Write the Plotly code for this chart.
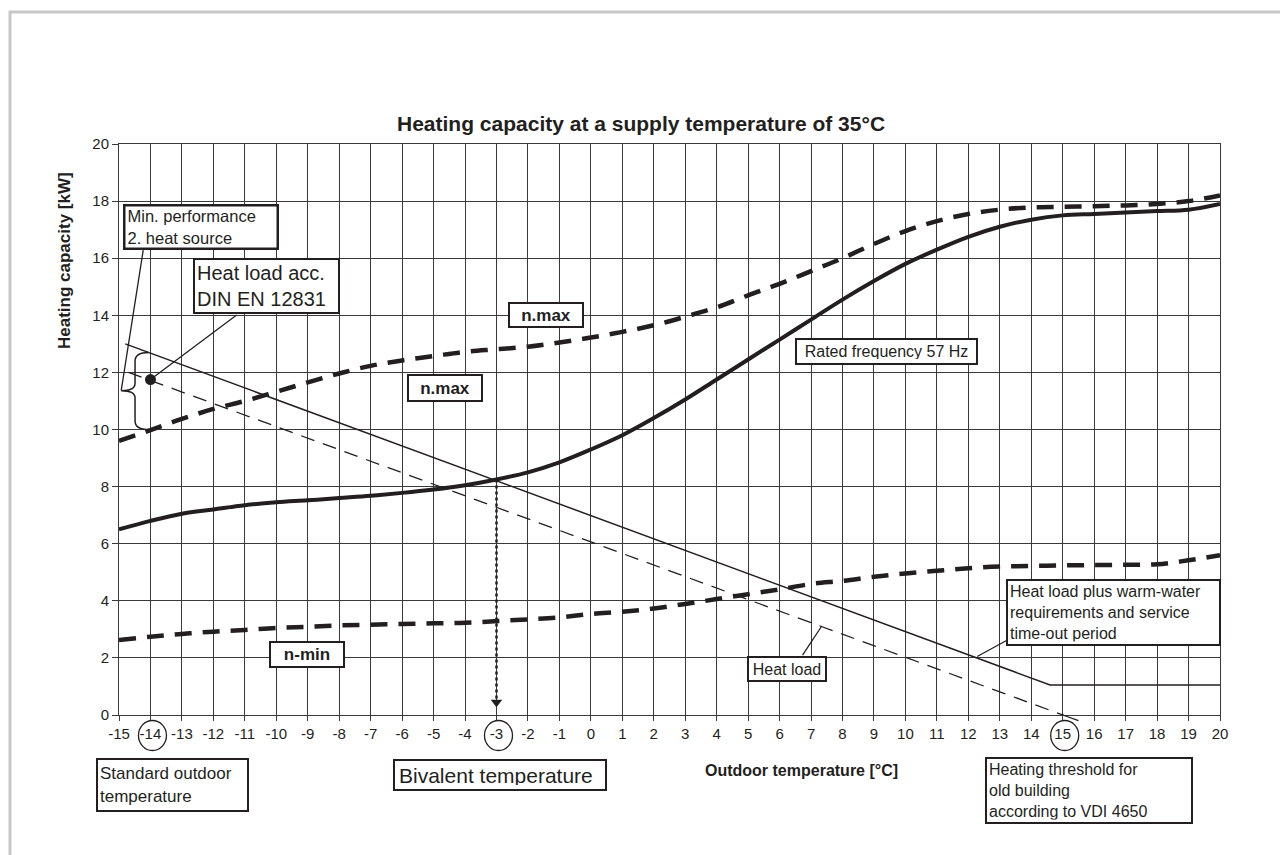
import plotly.graph_objects as go

# outdoor temperature grid (degC) and the read-off capacity curves (kW)
temps = list(range(-15, 21))
rated_57hz = [6.5, 6.8, 7.05, 7.2, 7.35, 7.45, 7.52, 7.6, 7.68, 7.78, 7.9, 8.05,
              8.25, 8.5, 8.85, 9.3, 9.8, 10.4, 11.05, 11.75, 12.45, 13.15, 13.85, 14.55,
              15.2, 15.8, 16.3, 16.75, 17.1, 17.35, 17.5, 17.55, 17.6, 17.65, 17.7, 17.9]
n_max = [9.6, 9.98, 10.37, 10.72, 11.0, 11.32, 11.65, 11.96, 12.23, 12.42, 12.57, 12.72,
         12.81, 12.9, 13.05, 13.22, 13.42, 13.65, 13.95, 14.28, 14.7, 15.1, 15.55, 16.0,
         16.5, 16.95, 17.3, 17.55, 17.7, 17.78, 17.8, 17.82, 17.85, 17.9, 18.0, 18.2]
n_min = [2.63, 2.74, 2.84, 2.92, 2.98, 3.05, 3.09, 3.14, 3.16, 3.19, 3.21, 3.23,
         3.29, 3.35, 3.42, 3.54, 3.62, 3.73, 3.89, 4.06, 4.23, 4.4, 4.59, 4.7,
         4.84, 4.96, 5.05, 5.14, 5.2, 5.22, 5.24, 5.25, 5.26, 5.28, 5.42, 5.6]

heat_load_x = [-14.7, 15.5]
heat_load_y = [12.0, -0.2]
heat_load_plus_x = [-14.8, 14.6, 20]
heat_load_plus_y = [13.0, 1.05, 1.05]

standard_temp = -14
standard_load = 11.75
bivalent_temp = -3
bivalent_capacity = 8.25
threshold_temp = 15

x_ticks = list(range(-15, 21))
x_tick_labels = [str(t) for t in x_ticks]
y_ticks = list(range(0, 21, 2))
circled_ticks = [standard_temp, bivalent_temp, threshold_temp]

INK = "#231f20"
GRID = "#3a3a3a"
FONT = "Liberation Sans, Arial, sans-serif"

# the page body has an 8px margin, so the figure is made 8px smaller
BODY = 8
W, H = 1288 - BODY, 855 - BODY
PLOT_L, PLOT_T, PLOT_R, PLOT_B = 119, 144, 1220, 715   # page pixels
PW = PLOT_R - PLOT_L
PH = PLOT_B - PLOT_T
ML, MT = PLOT_L - BODY, PLOT_T - BODY
MR, MB = W - ML - PW, H - MT - PH
X0, X1, Y0, Y1 = -15, 20, 0, 20


def xpap(px):
    return (px - PLOT_L) / PW


def ypap(py):
    return (PLOT_B - py) / PH


def xdat(v):
    return (v - X0) / (X1 - X0)


def ydat(v):
    return (v - Y0) / (Y1 - Y0)


fig = go.Figure()

fig.add_trace(go.Scatter(x=temps, y=n_max, mode="lines",
                         line=dict(color=INK, width=4.5, dash="17px,11px", shape="spline")))
fig.add_trace(go.Scatter(x=temps, y=n_min, mode="lines",
                         line=dict(color=INK, width=4.5, dash="17px,11px", shape="spline")))
fig.add_trace(go.Scatter(x=temps, y=rated_57hz, mode="lines",
                         line=dict(color=INK, width=4, shape="spline")))
fig.add_trace(go.Scatter(x=heat_load_plus_x, y=heat_load_plus_y, mode="lines",
                         line=dict(color=INK, width=1.5)))
fig.add_trace(go.Scatter(x=heat_load_x, y=heat_load_y, mode="lines",
                         line=dict(color=INK, width=1.3, dash="14px,9px")))

# bivalent point drop line with arrow head
fig.add_trace(go.Scatter(x=[bivalent_temp, bivalent_temp], y=[bivalent_capacity, 0.45],
                         mode="lines", line=dict(color=INK, width=2.5, dash="dot")))
fig.add_trace(go.Scatter(x=[bivalent_temp], y=[0.45], mode="markers",
                         marker=dict(symbol="triangle-down", size=10, color=INK), cliponaxis=False))
fig.add_trace(go.Scatter(x=[standard_temp], y=[standard_load], mode="markers",
                         marker=dict(symbol="circle", size=11, color=INK)))

shapes = []

# short tail of the heat-load line running past the x axis
shapes.append(dict(type="line", xref="paper", yref="paper",
                   x0=xdat(threshold_temp), y0=ydat(0),
                   x1=xdat(heat_load_x[-1]), y1=ydat(heat_load_y[-1]),
                   line=dict(color=INK, width=1.3)))

# curly brace for min. performance of 2nd heat source
bx_tip, bx_spine, bx_end = -14.93, -14.49, -14.05
b_top, b_mid, b_bot = 12.7, 11.36, 10.0
brace = (f"M {bx_end},{b_top} Q {bx_spine},{b_top} {bx_spine},{b_top - 0.3} "
         f"L {bx_spine},{b_mid + 0.25} Q {bx_spine},{b_mid} {bx_tip},{b_mid} "
         f"Q {bx_spine},{b_mid} {bx_spine},{b_mid - 0.25} "
         f"L {bx_spine},{b_bot + 0.3} Q {bx_spine},{b_bot} {bx_end},{b_bot}")
shapes.append(dict(type="path", path=brace, xref="x", yref="y", line=dict(color=INK, width=1.5)))

# leader lines from the label boxes
leaders = [
    (-14.23, 16.28, bx_tip, b_mid),
    (-11.26, 14.01, standard_temp, standard_load),
    (6.73, 2.1, 7.33, 3.1),
    (13.2, 2.6, 12.28, 2.05),
]
for x0, y0, x1, y1 in leaders:
    shapes.append(dict(type="line", xref="x", yref="y", x0=x0, y0=y0, x1=x1, y1=y1,
                       line=dict(color=INK, width=1.3)))

# circles round the special tick labels
for t in circled_ticks:
    cx = xdat(t) + 2 / PW
    cy = ypap(735.5)
    shapes.append(dict(type="circle", xref="paper", yref="paper",
                       x0=cx - 14 / PW, x1=cx + 14 / PW, y0=cy - 15 / PH, y1=cy + 15 / PH,
                       line=dict(color=INK, width=1.3)))

# grey page frame
shapes.append(dict(type="rect", xref="paper", yref="paper",
                   x0=xpap(10), x1=xpap(1284), y0=ypap(870), y1=ypap(12),
                   line=dict(color="#c8c8c8", width=3)))

# label boxes: text, left, top, right, bottom (page px), size, bold, align, border
boxes = [
    ("Min. performance<br>2. heat source", 123, 204, 279, 250, 16.5, False, "left", 2.5),
    ("Heat load acc.<br>DIN EN 12831", 193, 258, 340, 314, 20, False, "left", 2),
    ("n.max", 508, 302, 584, 328, 17, True, "center", 2),
    ("n.max", 407, 374, 483, 402, 17, True, "center", 2),
    ("Rated frequency 57 Hz", 795, 338, 978, 365, 16, False, "center", 2),
    ("n-min", 269, 641, 345, 668, 17, True, "center", 2),
    ("Heat load", 747, 656, 827, 682, 16, False, "center", 2),
    ("Heat load plus warm-water<br>requirements and service<br>time-out period",
     1006, 579, 1221, None, 16, False, "left", 2),
    ("Standard outdoor<br>temperature", 96, 758, 249, 812, 17, False, "left", 2),
    ("Bivalent temperature", 393, 759, 607, 791, 21, False, "left", 2),
    ("Heating threshold for<br>old building<br>according to VDI 4650",
     985, 757, 1193, None, 16, False, "left", 2),
]
annotations = []
for text, l, t, r, b, size, bold, align, bw in boxes:
    pad = 4 if (b is not None and "<br>" not in text) else 2
    ann = dict(
        text=f"<b>{text}</b>" if bold else text,
        xref="paper", yref="paper", x=xpap(l), y=ypap(t), xanchor="left", yanchor="top",
        width=r - l - 2 * (bw + pad),
        align=align, valign="middle", showarrow=False,
        font=dict(family=FONT, size=size, color=INK),
        bgcolor="white", bordercolor=INK, borderwidth=bw, borderpad=pad)
    if b is not None:
        ann["height"] = b - t - 2 * (bw + pad)
    annotations.append(ann)

annotations.append(dict(text="<b>Heating capacity at a supply temperature of 35°C</b>",
                        xref="paper", yref="paper", x=xpap(641), y=ypap(124),
                        xanchor="center", yanchor="middle", showarrow=False,
                        font=dict(family=FONT, size=21, color=INK)))
annotations.append(dict(text="<b>Heating capacity [kW]</b>", textangle=-90,
                        xref="paper", yref="paper", x=xpap(64), y=ypap(261),
                        xanchor="center", yanchor="middle", showarrow=False,
                        font=dict(family=FONT, size=17, color=INK)))
annotations.append(dict(text="<b>Outdoor temperature [°C]</b>",
                        xref="paper", yref="paper", x=xpap(703), y=ypap(770),
                        xanchor="left", yanchor="middle", showarrow=False,
                        font=dict(family=FONT, size=16, color=INK)))

fig.update_layout(
    width=W, height=H,
    margin=dict(l=ML, r=MR, t=MT, b=MB),
    paper_bgcolor="white", plot_bgcolor="white",
    showlegend=False,
    shapes=shapes,
    annotations=annotations,
    font=dict(family=FONT, color=INK),
)
fig.update_xaxes(range=[X0, X1], tickvals=x_ticks, ticktext=x_tick_labels,
                 showgrid=True, gridcolor=GRID, gridwidth=1, zeroline=False,
                 showline=True, linecolor=GRID, linewidth=1, mirror=True,
                 ticks="outside", ticklen=5, tickcolor=GRID,
                 tickfont=dict(family=FONT, size=15, color=INK))
fig.update_yaxes(range=[Y0, Y1], tickvals=y_ticks,
                 showgrid=True, gridcolor=GRID, gridwidth=1, zeroline=False,
                 showline=True, linecolor=GRID, linewidth=1, mirror=True,
                 ticks="outside", ticklen=6, tickcolor=GRID,
                 tickfont=dict(family=FONT, size=15, color=INK))

fig.write_html("out.html")
